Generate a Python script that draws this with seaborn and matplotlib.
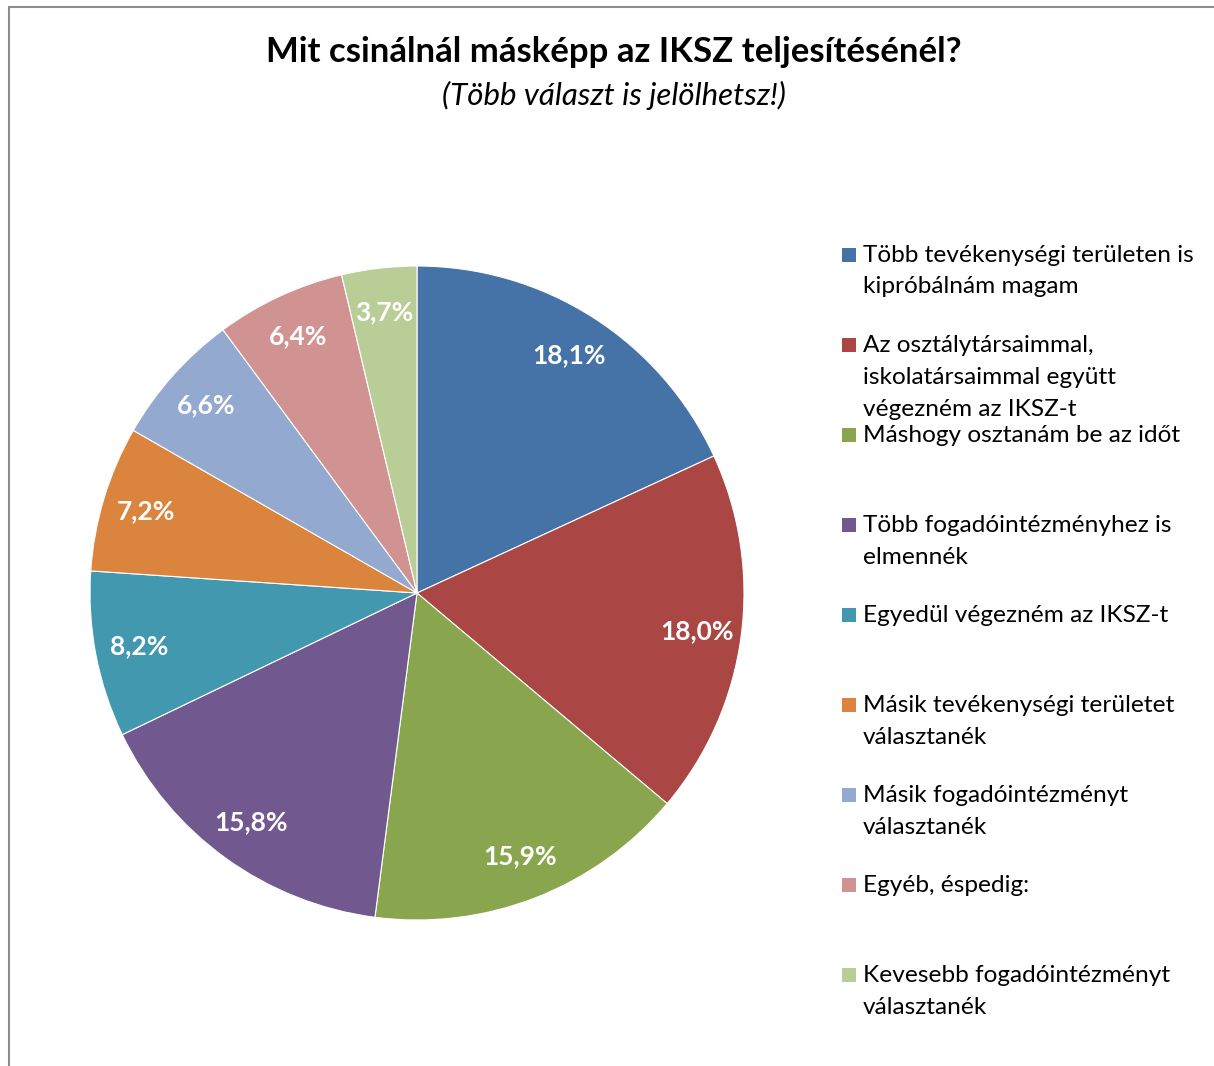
import matplotlib
matplotlib.use("Agg")
import matplotlib.pyplot as plt
from matplotlib.patches import Rectangle
from matplotlib.lines import Line2D
import seaborn as sns

sns.set_theme(style="white")
plt.rcParams["font.family"] = ["Lato", "DejaVu Sans"]

# Survey answers (share of responses, %)
categories = [
    "Több tevékenységi területen is\nkipróbálnám magam",
    "Az osztálytársaimmal,\niskolatársaimmal együtt\nvégezném az IKSZ-t",
    "Máshogy osztanám be az időt",
    "Több fogadóintézményhez is\nelmennék",
    "Egyedül végezném az IKSZ-t",
    "Másik tevékenységi területet\nválasztanék",
    "Másik fogadóintézményt\nválasztanék",
    "Egyéb, éspedig:",
    "Kevesebb fogadóintézményt\nválasztanék",
]
values = [18.1, 18.0, 15.9, 15.8, 8.2, 7.2, 6.6, 6.4, 3.7]
colors = ["#4572A7", "#AA4643", "#89A54E", "#71588F", "#4198AF",
          "#DB843D", "#93A9CF", "#D19392", "#B9CD96"]

W, H = 1214, 1066
fig = plt.figure(figsize=(W / 100, H / 100), dpi=100)
fig.patch.set_facecolor("white")


def fx(px):
    return px / W


def fy(py):
    return 1 - py / H


# Frame lines (left and top edges of the chart area)
fig.add_artist(Line2D([fx(9), fx(9)], [fy(7), 0], color="#8c8c8c", lw=1.5))
fig.add_artist(Line2D([fx(9), 1], [fy(7), fy(7)], color="#8c8c8c", lw=1.5))

# Pie
cx, cy, r = 417, 593, 327
ax = fig.add_axes([fx(cx - r), fy(cy + r), 2 * r / W, 2 * r / H])
wedges, texts, autotexts = ax.pie(
    values,
    colors=colors,
    startangle=90,
    counterclock=False,
    autopct=lambda p: "",
    pctdistance=0.865,
    wedgeprops=dict(edgecolor="white", linewidth=0.8),
)
for at, v in zip(autotexts, values):
    at.set_text(f"{v:.1f}%".replace(".", ","))
    at.set_color("white")
    at.set_fontsize(19)
    at.set_fontweight("bold")
ax.set_xlim(-1, 1)
ax.set_ylim(-1, 1)
ax.set_aspect("auto")
ax.axis("off")

# Titles
fig.text(fx(614), fy(52), "Mit csinálnál másképp az IKSZ teljesítésénél?",
         ha="center", va="center", fontsize=25, fontweight="bold", color="black")
fig.text(fx(614), fy(95), "(Több választ is jelölhetsz!)",
         ha="center", va="center", fontsize=22.5, fontstyle="italic", color="black")

# Legend
y0, step, line_h = 255, 90, 32
for i, (lab, col) in enumerate(zip(categories, colors)):
    yy = y0 + i * step
    fig.add_artist(Rectangle((fx(842), fy(yy + 7)), 14 / W, 14 / H,
                             transform=fig.transFigure, facecolor=col,
                             edgecolor="none"))
    for j, line in enumerate(lab.split("\n")):
        fig.text(fx(863), fy(yy + j * line_h), line, ha="left", va="center",
                 fontsize=17.6, color="black")

fig.savefig("out.png", dpi=100, facecolor="white")
